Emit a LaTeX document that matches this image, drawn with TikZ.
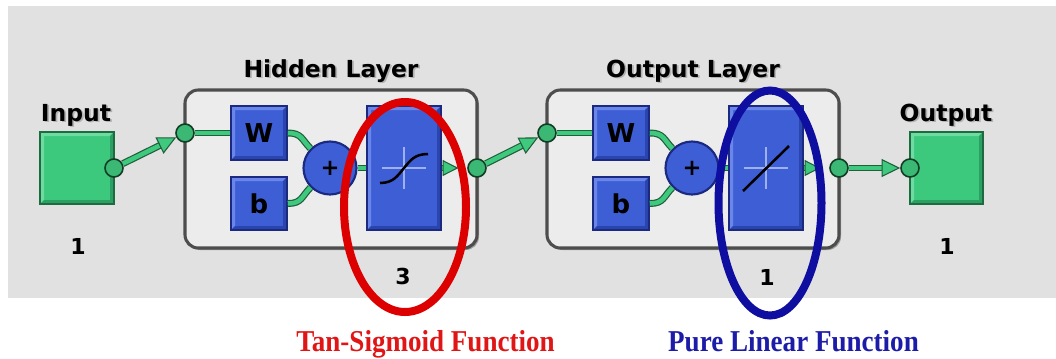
\documentclass[tikz,border=0pt]{standalone}
\usepackage{fontspec}
\setmainfont{DejaVu Sans}
\newfontfamily\tnr{Liberation Serif}
\usetikzlibrary{arrows.meta,shadows,shapes.geometric}
\definecolor{bgc}{HTML}{E1E1E1}
\definecolor{layfill}{HTML}{ECECEC}
\definecolor{laydraw}{HTML}{4D4D4D}
\definecolor{bfill}{HTML}{3E5ED6}
\definecolor{bdark}{HTML}{1B2A80}
\definecolor{blight}{HTML}{6A86E8}
\definecolor{bshade}{HTML}{2A45AE}
\definecolor{gfill}{HTML}{3CC87D}
\definecolor{gdark}{HTML}{1D6B40}
\definecolor{glight}{HTML}{6EDCA0}
\definecolor{gshade}{HTML}{2BA062}
\definecolor{wgreen}{HTML}{3FC97F}
\definecolor{wdark}{HTML}{1F5F3A}
\definecolor{dotc}{HTML}{3AB874}
\definecolor{dotd}{HTML}{123D24}
\definecolor{crossc}{HTML}{9DB0F0}
\definecolor{redc}{HTML}{DD0000}
\definecolor{redt}{HTML}{E01515}
\definecolor{bluec}{HTML}{0E0EA0}
\definecolor{bluet}{HTML}{1C1CA8}
\newcommand\pxu{0.75pt}
\newcommand\shtext[1]{\makebox[0pt][l]{\kern1.3pt\raisebox{-1.3pt}{\color{black!30}#1}}#1}
\tikzset{
  bevel/.style 2 args={path picture={
    \fill[#1] (path picture bounding box.north west) -- (path picture bounding box.north east)
      -- ([shift={(-4,4)}]path picture bounding box.north east) -- ([shift={(4,4)}]path picture bounding box.north west)
      -- ([shift={(4,-4)}]path picture bounding box.south west) -- (path picture bounding box.south west) -- cycle;
    \fill[#2] (path picture bounding box.south east) -- (path picture bounding box.north east)
      -- ([shift={(-4,4)}]path picture bounding box.north east) -- ([shift={(-4,-4)}]path picture bounding box.south east)
      -- ([shift={(4,-4)}]path picture bounding box.south west) -- (path picture bounding box.south west) -- cycle;
  }},
  gbox/.style={rectangle, inner sep=0pt, fill=gfill, draw=gdark, line width=1.3pt, bevel={glight}{gshade}},
  bbox/.style={rectangle, inner sep=0pt, fill=bfill, draw=bdark, line width=1.3pt, bevel={blight}{bshade},
    font=\fontsize{19.5}{20}\selectfont\bfseries},
  layer/.style={rectangle, inner sep=0pt, fill=layfill, draw=laydraw, line width=2.3pt, rounded corners=10pt,
    drop shadow={shadow xshift=1.5pt, shadow yshift=-1.5pt, opacity=0.3, fill=black}},
  lab/.style={anchor=base, font=\fontsize{17.6}{20}\selectfont\bfseries},
  num/.style={anchor=base, font=\fontsize{16.5}{18}\selectfont\bfseries},
  pcirc/.style={circle, inner sep=0pt, minimum size=53*\pxu, fill=bfill, draw=bdark, line width=1.6pt,
    font=\fontsize{17}{17}\selectfont\bfseries},
  dot/.style={circle, inner sep=0pt, minimum size=18*\pxu, fill=dotc, draw=dotd, line width=1.2pt},
  wire/.style={draw=wgreen, line width=3.4pt, preaction={draw=wdark, line width=5.2pt}},
  warrow/.style={draw=wgreen, line width=3.4pt,
    -{Triangle[length=14pt,width=13.5pt,fill=wgreen,color=wdark,line width=0.8pt]},
    preaction={draw=wdark, line width=5.2pt, -, shorten >=9pt}},
  warrowshort/.style={draw=wgreen, line width=3.4pt, shorten >=6.5pt,
    -{Triangle[length=12pt,width=12pt,fill=wgreen,color=wdark,line width=0.8pt]},
    preaction={draw=wdark, line width=5.2pt, -, shorten >=14pt}},
  crossl/.style={draw=crossc, line width=1.1pt},
  tfcurve/.style={draw=black, line width=1.9pt},
  ring/.style={ellipse, inner sep=0pt, line width=6pt},
  fnlab/.style={anchor=base, font=\tnr\bfseries\fontsize{20.3}{22}\selectfont}
}
\begin{document}
\begin{tikzpicture}[x=0.75pt, y=-0.75pt]
\useasboundingbox (0,0) rectangle (1056,358);
\fill[bgc] (8,6) rectangle (1056,298);

% layer frames
\node[layer, minimum width=292*\pxu, minimum height=158*\pxu] (hid) at (331,169) {};
\node[layer, minimum width=292*\pxu, minimum height=158*\pxu] (outl) at (693,169) {};

% titles
\node[lab] (tin) at (76,121) {\shtext{Input}};
\node[lab] (thid) at (331,77) {\shtext{Hidden Layer}};
\node[lab] (tout) at (693,77) {\shtext{Output Layer}};
\node[lab] (toutp) at (946,121) {\shtext{Output}};

% input / output squares
\node[gbox, minimum width=74*\pxu, minimum height=72*\pxu] (inp) at (77,168) {};
\node[gbox, minimum width=73*\pxu, minimum height=72*\pxu] (outp) at (946.5,168) {};

% hidden layer blocks
\node[bbox, minimum width=56*\pxu, minimum height=54*\pxu] (W1) at (259,133) {W};
\node[bbox, minimum width=56*\pxu, minimum height=53*\pxu] (b1) at (259,203.5) {b};
\node[pcirc] (P1) at (330,168) {+};
\node[bbox, minimum width=74*\pxu, minimum height=124*\pxu] (TF1) at (404,168) {};

% output layer blocks
\node[bbox, minimum width=56*\pxu, minimum height=54*\pxu] (W2) at (621,133) {W};
\node[bbox, minimum width=56*\pxu, minimum height=53*\pxu] (b2) at (621,203.5) {b};
\node[pcirc] (P2) at (692,168) {+};
\node[bbox, minimum width=74*\pxu, minimum height=124*\pxu] (TF2) at (766,168) {};

% transfer function glyphs
\draw[crossl] ([shift={(-22,0)}]TF1.center) -- ([shift={(22,0)}]TF1.center);
\draw[crossl] ([shift={(0,-21)}]TF1.center) -- ([shift={(0,21)}]TF1.center);
\draw[tfcurve] ([shift={(-24,15)}]TF1.center) .. controls ([shift={(-10,15)}]TF1.center) and ([shift={(-6,7)}]TF1.center) .. (TF1.center)
  .. controls ([shift={(6,-7)}]TF1.center) and ([shift={(10,-14)}]TF1.center) .. ([shift={(24,-14)}]TF1.center);
\draw[crossl] ([shift={(-22,0)}]TF2.center) -- ([shift={(22,0)}]TF2.center);
\draw[crossl] ([shift={(0,-21)}]TF2.center) -- ([shift={(0,21)}]TF2.center);
\draw[tfcurve] ([shift={(-23,23)}]TF2.center) -- ([shift={(23,-22)}]TF2.center);

% dots
\node[dot] (d0) at (114,168) {};
\node[dot] (d1) at (185,133) {};
\node[dot] (d2) at (477,168) {};
\node[dot] (d3) at (547,133) {};
\node[dot] (d4) at (839,168) {};
\node[dot] (d5) at (910,168) {};

% wires
\draw[warrow] (d0) -- (d1);
\draw[wire] (d1) -- (W1.west);
\draw[wire] (W1.east) .. controls +(14,0) and +(-9,-9) .. (P1.135);
\draw[wire] (b1.east) .. controls +(14,0) and +(-9,9) .. (P1.225);
\draw[wire] (P1.east) -- (TF1.west);
\draw[warrowshort] (TF1.east) -- (d2.west);
\draw[warrow] (d2) -- (d3);
\draw[wire] (d3) -- (W2.west);
\draw[wire] (W2.east) .. controls +(14,0) and +(-9,-9) .. (P2.135);
\draw[wire] (b2.east) .. controls +(14,0) and +(-9,9) .. (P2.225);
\draw[wire] (P2.east) -- (TF2.west);
\draw[warrowshort] (TF2.east) -- (d4.west);
\draw[warrow] (d4) -- (d5);

% sizes
\node[num] (n1) at (78,254) {1};
\node[num] (n3) at (403,284) {3};
\node[num] (n4) at (767,285) {1};
\node[num] (n5) at (947,254) {1};

% highlight rings
\node[ring, draw=redc, minimum width=122*\pxu, minimum height=210*\pxu] (redring) at (405,207) {};
\node[ring, draw=bluec, minimum width=103*\pxu, minimum height=225*\pxu] (bluering) at (770,203) {};

% function labels
\node[fnlab, text=redt] (fn1) at (425.5,351) {\scalebox{1}[1.12]{Tan-Sigmoid Function}};
\node[fnlab, text=bluet] (fn2) at (793.5,351) {\scalebox{1}[1.12]{Pure Linear Function}};
\end{tikzpicture}
\end{document}
